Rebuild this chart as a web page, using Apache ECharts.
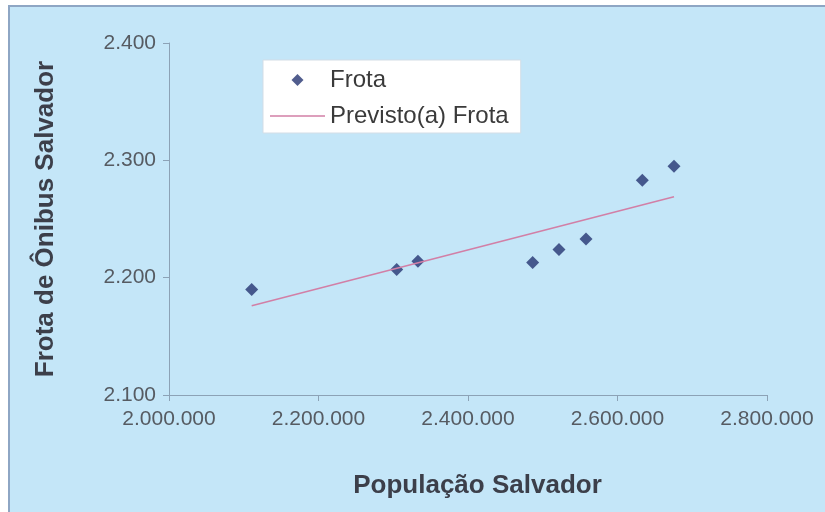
<!DOCTYPE html>
<html>
<head>
<meta charset="utf-8">
<script src="https://cdn.jsdelivr.net/npm/echarts@6/dist/echarts.min.js"></script>
<style>
    body { margin: 0; background: #fff; }
    #frame {
        position: absolute; left: 8px; top: 5px;
        width: 817px; height: 507px;
        border-left: 2px solid #8ea6c4; border-top: 2px solid #8ea6c4;
        box-sizing: border-box;
    }
    #main { width: 815px; height: 505px; }
</style>
</head>
<body>
<div id="frame"><div id="main"></div></div>
<script>
// dados
let populacao = [2110600, 2304600, 2333000, 2486500, 2521700, 2557900, 2633200, 2675600]
let frota = [2190, 2207, 2214, 2213, 2224, 2233, 2283, 2295]
// reta prevista (extremos)
let previstoX = [2110600, 2675600]
let previstoY = [2176, 2269]

let xTicks = [2000000, 2800000, 200000]
let yTicks = [2100, 2400, 100]

// formato 2.000.000
function fmt(v) {
    return String(v).replace(/\B(?=(\d{3})+(?!\d))/g, '.')
}

var myChart = echarts.init(document.getElementById('main'))
var font = '"Liberation Sans", Arial, sans-serif'
var option = {
    backgroundColor: '#c4e6f8',
    animation: false,
    textStyle: { fontFamily: font },
    grid: { left: 159, right: 58, top: 36, bottom: 117 },
    legend: {
        orient: 'vertical',
        left: 253,
        top: 53,
        backgroundColor: '#fff',
        borderColor: '#d3dde6',
        borderWidth: 1,
        padding: [8, 12, 5, 7],
        itemGap: 12,
        itemWidth: 55,
        itemHeight: 12,
        symbolKeepAspect: true,
        textStyle: { fontSize: 24, color: '#3a3a3a', fontFamily: font },
        data: [
            { name: 'Frota', icon: 'path://M5,0 L10,5 L5,10 L0,5 Z' },
            { name: 'Previsto(a) Frota', icon: 'path://M0,0 L55,0 L55,1.5 L0,1.5 Z' }
        ]
    },
    xAxis: {
        type: 'value',
        min: xTicks[0], max: xTicks[1], interval: xTicks[2],
        name: 'População Salvador',
        nameLocation: 'middle',
        nameGap: 78,
        nameTextStyle: { fontSize: 26, fontWeight: 'bold', color: '#3c3f4a', padding: [0, 0, 0, 19] },
        splitLine: { show: false },
        axisLine: { lineStyle: { color: '#8ca2b6', width: 1 } },
        axisTick: { length: 6, lineStyle: { color: '#8ca2b6' } },
        axisLabel: { fontSize: 21, color: '#565b62', margin: 14, formatter: fmt }
    },
    yAxis: {
        type: 'value',
        min: yTicks[0], max: yTicks[1], interval: yTicks[2],
        name: 'Frota de Ônibus Salvador',
        nameLocation: 'middle',
        nameGap: 110,
        nameTextStyle: { fontSize: 26, fontWeight: 'bold', color: '#3c3f4a' },
        splitLine: { show: false },
        axisLine: { show: true, lineStyle: { color: '#8ca2b6', width: 1 } },
        axisTick: { show: true, length: 6, lineStyle: { color: '#8ca2b6' } },
        axisLabel: { fontSize: 21, color: '#565b62', margin: 13, formatter: fmt }
    },
    series: [
        {
            name: 'Frota',
            type: 'scatter',
            symbol: 'diamond',
            symbolSize: 13,
            itemStyle: { color: '#263572' },
            data: populacao.map((x, i) => [x, frota[i]])
        },
        {
            name: 'Previsto(a) Frota',
            type: 'line',
            symbol: 'none',
            lineStyle: { color: '#d27fa6', width: 1.5 },
            itemStyle: { color: '#d27fa6' },
            data: previstoX.map((x, i) => [x, previstoY[i]])
        }
    ]
}
myChart.setOption(option)
</script>
</body>
</html>
